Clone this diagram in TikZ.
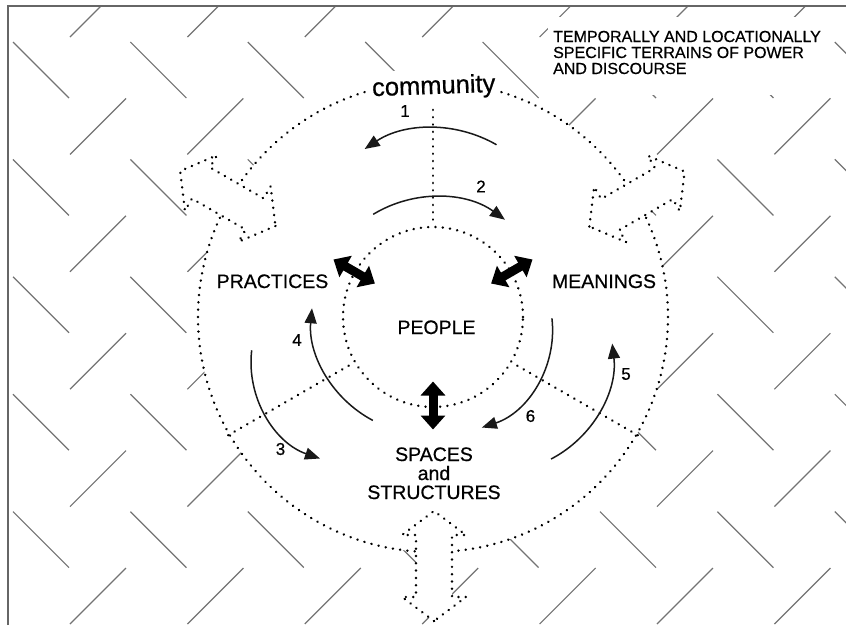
\documentclass[tikz,border=0pt]{standalone}
\usepackage{fontspec}
\setmainfont{Liberation Sans}
\newfontfamily\heavysans[FakeBold=0.6]{Liberation Sans}
\usetikzlibrary{arrows.meta}
\begin{document}
\begin{tikzpicture}[x=1pt,y=1pt,
  pat/.style={line width=1.2pt, draw=black!55},
  frameline/.style={line width=1.6pt, draw=black!60},
  dotline/.style={line width=2.7pt, draw=black, line cap=round, dash pattern=on 0.01pt off 7.3pt},
  hollow/.style={dotline, fill=white, line join=round},
  cur/.style={line width=1.5pt, draw=black!90, -{Triangle[length=15pt,width=12pt]}},
  blk/.style={line width=9pt, draw=black, {Triangle[length=14pt,width=24pt]}-{Triangle[length=14pt,width=24pt]}},
  lab/.style={font=\heavysans\fontsize{19.5}{22}\selectfont, inner sep=0pt, anchor=base, text=black},
  num/.style={font=\heavysans\fontsize{17}{20}\selectfont, inner sep=0pt, text=black},
  corner/.style={font=\heavysans\fontsize{16}{18}\selectfont, inner sep=0pt, anchor=base west, text=black},
]
\useasboundingbox (0,0) rectangle (846,-625);
\coordinate (O) at (433,-317);
% background herringbone pattern
\begin{scope}
  \clip (8,-6) rectangle (846,-625);
  \foreach \k in {0,...,7}{
    \foreach \m in {0,...,5}{
      \draw[pat] ({13+117.4*\k},{-42-117.4*\m}) -- ++(56,-56);
      \draw[pat] ({70+117.4*\k},{-37-117.4*\m}) -- ++(56,56);
    }
  }
\end{scope}
\draw[frameline] (8,-625) -- (8,-6) -- (846,-6);
\fill[white] (548,-17) rectangle (832,-95);
% circles and dividers
\node[circle, minimum size=470pt, inner sep=0pt, dotline, fill=white] (outer) at (O) {};
\node[circle, minimum size=180pt, inner sep=0pt, dotline] (inner) at (O) {};
\draw[dotline] (outer.90) -- (inner.90);
\draw[dotline] (outer.210) -- (inner.210);
\draw[dotline] (outer.330) -- (inner.330);
% hollow double arrows
\begin{scope}[shift={(227.8,-198.5)},rotate=150]
  \filldraw[hollow] (-55,0) -- (-31,32) -- (-31,18) -- (31,18) -- (31,32) -- (55,0) -- (31,-32) -- (31,-18) -- (-31,-18) -- (-31,-32) -- cycle;
\end{scope}
\begin{scope}[shift={(637,-199)},rotate=30]
  \filldraw[hollow] (-55,0) -- (-31,32) -- (-31,18) -- (31,18) -- (31,32) -- (55,0) -- (31,-32) -- (31,-18) -- (-31,-18) -- (-31,-32) -- cycle;
\end{scope}
\begin{scope}[shift={(434,-566)},rotate=90]
  \filldraw[hollow] (-55,0) -- (-31,32) -- (-31,18) -- (31,18) -- (31,32) -- (55,0) -- (31,-32) -- (31,-18) -- (-31,-18) -- (-31,-32) -- cycle;
\end{scope}
% texts
\node[font=\heavysans\fontsize{25.5}{28}\selectfont, fill=white, inner xsep=3pt, inner ysep=6pt, anchor=base, rotate=2, text=black] (comm) at (434,-94) {community};
\node[lab] (prac) at (272.5,-288) {PRACTICES};
\node[lab] (mean) at (604,-288) {MEANINGS};
\node[lab] (peop) at (436.5,-334) {PEOPLE};
\node[lab] (sp1) at (434,-461) {SPACES};
\node[lab] (sp2) at (434,-480) {and};
\node[lab] (sp3) at (434,-499) {STRUCTURES};
\node[corner] (t1) at (553,-42) {TEMPORALLY AND LOCATIONALLY};
\node[corner] (t2) at (553,-58) {SPECIFIC TERRAINS OF POWER};
\node[corner] (t3) at (553,-74) {AND DISCOURSE};
\node[num] (n1) at (405,-111) {1};
\node[num] (n2) at (481,-186.5) {2};
\node[num] (n3) at (280.5,-449) {3};
\node[num] (n4) at (297,-340) {4};
\node[num] (n5) at (626,-374) {5};
\node[num] (n6) at (530.5,-416) {6};
% curved arrows
\coordinate (k1) at (434,-253);
\coordinate (k2) at (435,-316);
\coordinate (k3) at (353,-362);
\coordinate (k4) at (426.5,-318.7);
\coordinate (k5) at (498,-357);
\coordinate (k6) at (450,-330);
\draw[cur] ([shift={(60:125)}]k1) arc[start angle=60, end angle=123.7, radius=125];
\draw[cur] ([shift={(121.3:119)}]k2) arc[start angle=121.3, end angle=54, radius=119];
\draw[cur] ([shift={(173.4:102)}]k3) arc[start angle=173.4, end angle=251.1, radius=102];
\draw[cur] ([shift={(242.2:115)}]k4) arc[start angle=242.2, end angle=174.8, radius=115];
\draw[cur] ([shift={(-62.5:115)}]k5) arc[start angle=-62.5, end angle=6.7, radius=115];
\draw[cur] ([shift={(6.5:102.6)}]k6) arc[start angle=6.5, end angle=-71.9, radius=102.6];
% black double arrows
\coordinate (pl1) at (333.5,-259.5);
\coordinate (pl2) at (374.9,-283.5);
\coordinate (mr1) at (532.5,-259.5);
\coordinate (mr2) at (491.1,-283.5);
\coordinate (sb1) at (433,-381.5);
\coordinate (sb2) at (433,-429.5);
\draw[blk] (pl1) -- (pl2);
\draw[blk] (mr1) -- (mr2);
\draw[blk] (sb1) -- (sb2);
\end{tikzpicture}
\end{document}
